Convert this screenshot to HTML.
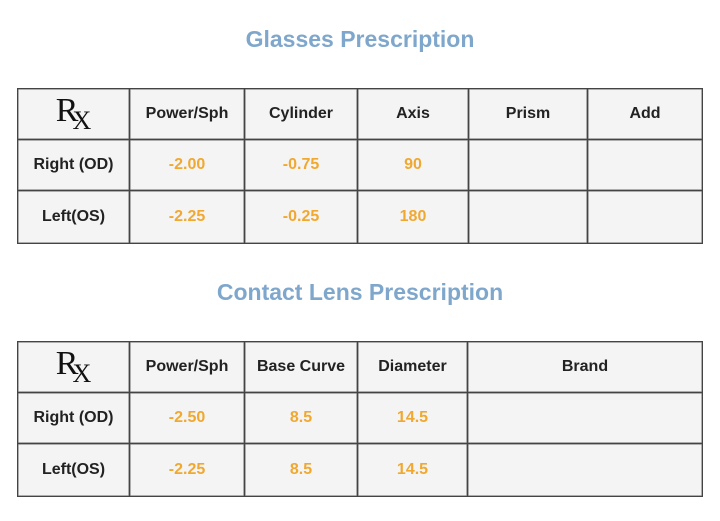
<!DOCTYPE html>
<html><head><style>
body{margin:0;width:720px;height:521px;background:#fff;font-family:"Liberation Sans",sans-serif;position:relative;overflow:hidden}
.t{position:absolute;left:0;width:720px;text-align:center;color:#7fa7cc;font-weight:bold;font-size:23px}
.c{position:absolute;background:#f4f4f4;border:1px solid #444;box-shadow:inset 0 0 0 0.5px #666;box-sizing:border-box;display:flex;align-items:center;justify-content:center;font-size:16px;font-weight:bold;color:#222}
.o{color:#f0a830;font-weight:bold}
.rx{font-family:"Liberation Serif",serif;font-weight:normal;font-size:34px;color:#111}
.rx sub{font-size:26px;vertical-align:-8px;margin-left:-6px}
</style></head><body>
<div class="t" style="top:26px">Glasses Prescription</div>
<div class="t" style="top:279px">Contact Lens Prescription</div>
<script>
function tbl(top,cols,rows){
 var rh=[top,top+51,top+102,top+155];
 for(var r=0;r<3;r++)for(var c=0;c<cols.length-1;c++){
  var d=document.createElement('div');d.className='c';
  d.style.left=cols[c]+'px';d.style.top=rh[r]+'px';
  d.style.width=(cols[c+1]-cols[c]+1)+'px';d.style.height=(rh[r+1]-rh[r]+1)+'px';
  var v=rows[r][c]||'';
  if(r==0&&c==0){d.innerHTML='<span class="rx">R<sub>X</sub></span>';}
  else{d.textContent=v;if(r>0&&c>0)d.classList.add('o');}
  document.body.appendChild(d);
 }
}
tbl(88,[17,129,244,357,468,587,702],[["","Power/Sph","Cylinder","Axis","Prism","Add"],["Right (OD)","-2.00","-0.75","90","",""],["Left(OS)","-2.25","-0.25","180","",""]]);
tbl(341,[17,129,244,357,467,702],[["","Power/Sph","Base Curve","Diameter","Brand"],["Right (OD)","-2.50","8.5","14.5",""],["Left(OS)","-2.25","8.5","14.5",""]]);
</script>
</body></html>
